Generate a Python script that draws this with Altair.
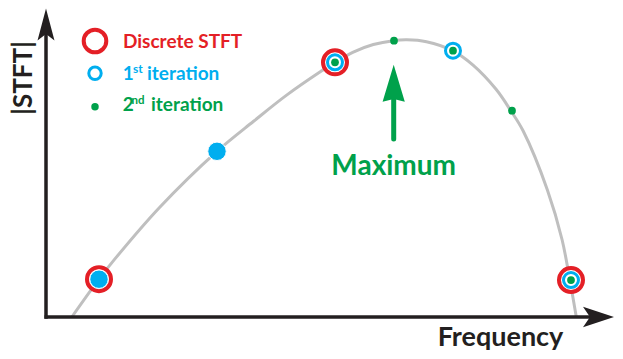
import altair as alt
import pandas as pd

# ---- data (frequency bins, normalised |STFT|) ----
curve_f = [0.54, 1.0, 1.27, 2.03, 3.0, 3.62, 4.18, 4.75, 5.0, 5.31, 5.65, 5.99,
           6.22, 6.55, 6.99, 7.34, 7.73, 7.98, 8.19, 8.6, 8.85, 8.98, 9.09]
curve_mag = [0.0, 0.136, 0.209, 0.395, 0.596, 0.704, 0.798, 0.882, 0.916, 0.953,
             0.980, 0.994, 0.997, 0.990, 0.958, 0.906, 0.819, 0.742, 0.669, 0.457,
             0.277, 0.133, 0.0]

discrete_f = [1, 5, 9]
discrete_mag = [0.136, 0.916, 0.133]

first_f = [1, 3, 5, 7, 9]
first_mag = [0.136, 0.596, 0.916, 0.958, 0.133]

second_f = [5, 6, 7, 8, 9]
second_mag = [0.916, 0.994, 0.958, 0.742, 0.133]

legend_labels = ["Discrete STFT", "1", "st", "iteration", "2", "nd", "iteration"]
x_title = "Frequency"
y_title = "|STFT|"
max_label = "Maximum"

RED = "#E41F26"
BLUE = "#00AEEF"
GREEN = "#00A14B"
GRAY = "#BFBFBF"
INK = "#231F20"
FONT = "Lato"

curve = pd.DataFrame({"f": curve_f, "mag": curve_mag})
disc = pd.DataFrame({"f": discrete_f, "mag": discrete_mag})
first = pd.DataFrame({"f": first_f, "mag": first_mag})
first["refined"] = first["f"].isin(second_f)
second = pd.DataFrame({"f": second_f, "mag": second_mag})

W, H = 607, 343
xs = alt.Scale(domain=[-0.5424, 9.7458], zero=False, nice=False)
ys = alt.Scale(domain=[-0.1223, 1.1115], zero=False, nice=False)
X = lambda: alt.X("f:Q", scale=xs, axis=None)
Y = lambda: alt.Y("mag:Q", scale=ys, axis=None)

line = alt.Chart(curve).mark_line(color=GRAY, strokeWidth=3, interpolate="catmull-rom").encode(x=X(), y=Y())

# axes with arrowheads
base = alt.Chart(pd.DataFrame({"k": [0]}))
xaxis = base.mark_rule(color=INK, strokeWidth=3.5).encode(
    x=alt.value(36.5), x2=alt.value(583), y=alt.value(309))
yaxis = base.mark_rule(color=INK, strokeWidth=3.5).encode(
    x=alt.value(38), y=alt.value(25), y2=alt.value(310.8))
xhead = base.mark_point(shape="M1,0L-1,-0.66L-0.55,0L-1,0.66Z", filled=True, color=INK,
                        size=961, opacity=1).encode(x=alt.value(590.5), y=alt.value(309))
yhead = base.mark_point(shape="M0,-1L0.53,1L0,0.6L-0.53,1Z", filled=True, color=INK,
                        size=1024, opacity=1).encode(x=alt.value(38), y=alt.value(16.5))

# markers
red_ring = alt.Chart(disc).mark_point(shape="circle", filled=True, fill="white", stroke=RED,
                                      strokeWidth=4, size=576, opacity=1).encode(x=X(), y=Y())
blue_ring = alt.Chart(first).mark_point(shape="circle", filled=True, fill="white", stroke=BLUE,
                                        strokeWidth=3, size=225, opacity=1).encode(x=X(), y=Y())
blue_fill = alt.Chart(first).transform_filter("!datum.refined").mark_point(
    shape="circle", filled=True, fill=BLUE, stroke="white", strokeWidth=1, size=340, opacity=1
).encode(x=X(), y=Y())
green_dot = alt.Chart(second).mark_point(shape="circle", filled=True, color=GREEN, size=60,
                                         opacity=1).encode(x=X(), y=Y())

# legend
leg_red = base.mark_point(shape="circle", filled=False, stroke=RED, strokeWidth=4, size=511,
                          opacity=1).encode(x=alt.value(87), y=alt.value(33))
leg_blue = base.mark_point(shape="circle", filled=False, stroke=BLUE, strokeWidth=3, size=154,
                           opacity=1).encode(x=alt.value(87), y=alt.value(65.3))
leg_green = base.mark_point(shape="circle", filled=True, color=GREEN, size=56,
                            opacity=1).encode(x=alt.value(87), y=alt.value(98.7))


def txt(s, x, y, color, size, align="left", angle=0):
    kw = dict(text=s, align=align, baseline="alphabetic", font=FONT, fontWeight="bold",
              fontSize=size, color=color)
    if angle:
        kw["angle"] = angle
    return base.mark_text(**kw).encode(x=alt.value(x), y=alt.value(y))


texts = [
    txt(legend_labels[0], 115, 39.5, RED, 19),
    txt(legend_labels[1], 114.7, 72, BLUE, 19),
    txt(legend_labels[2], 125, 64.5, BLUE, 12),
    txt(legend_labels[3], 139, 72, BLUE, 19),
    txt(legend_labels[4], 114.7, 103, GREEN, 19),
    txt(legend_labels[5], 123.5, 95.5, GREEN, 11.5),
    txt(legend_labels[6], 143, 103, GREEN, 19),
    txt(max_label, 385.7, 167, GREEN, 28, align="center"),
    txt(x_title, 492.5, 338, INK, 27, align="center"),
    txt(y_title, 24, 70, INK, 26, align="center", angle=270),
]

# maximum arrow
shaft = base.mark_rule(color=GREEN, strokeWidth=5, strokeCap="round").encode(
    x=alt.value(385.7), y=alt.value(131), y2=alt.value(88))
ahead = base.mark_point(shape="M0,-1L0.6,1L0,0.85L-0.6,1Z", filled=True, color=GREEN,
                        size=1369, opacity=1).encode(x=alt.value(385.7), y=alt.value(75.3))

chart = alt.layer(
    line, xaxis, yaxis, xhead, yhead,
    red_ring, blue_ring, blue_fill, green_dot,
    leg_red, leg_blue, leg_green,
    shaft, ahead, *texts,
).properties(
    width=W, height=H,
    autosize=alt.AutoSizeParams(type="none"),
    padding={"left": 0, "top": 0, "right": 0, "bottom": 0},
).configure_view(stroke=None)

chart.save("out.html", embed_options={"renderer": "svg", "actions": False})
